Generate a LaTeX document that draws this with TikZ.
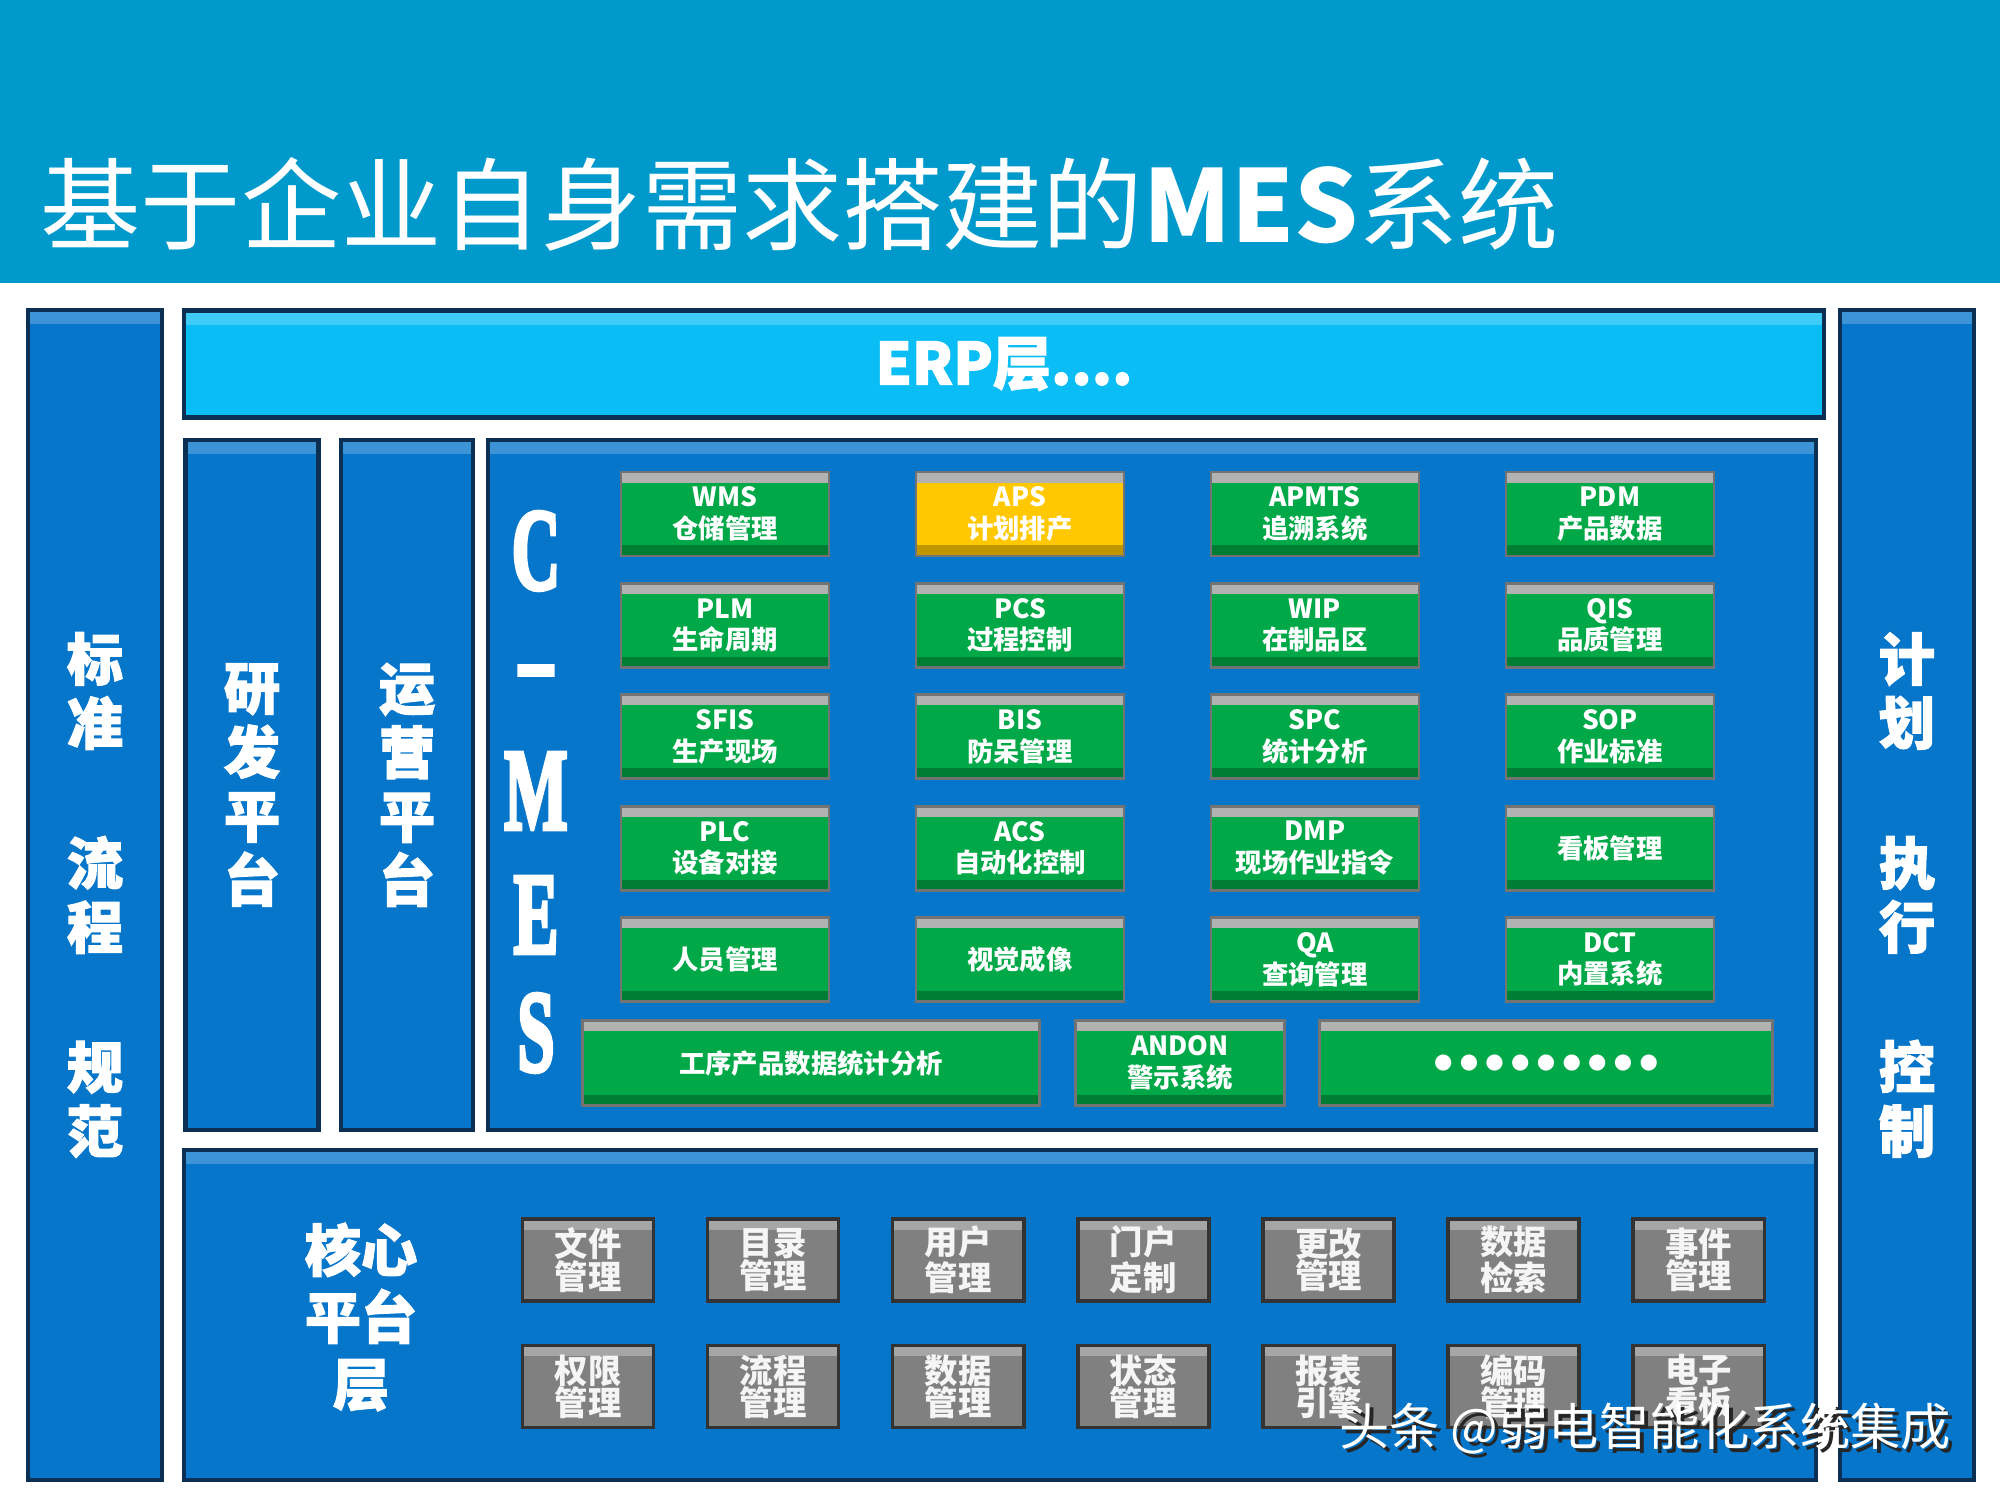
\documentclass[tikz,border=0pt]{standalone}
\usepackage{fontspec}
\usetikzlibrary{positioning}
\newfontfamily\cjk{Noto Sans CJK SC}
\newfontfamily\cjkheavy[FakeBold=2]{Noto Sans CJK SC}
\newfontfamily\serifbold[FakeBold=4]{Liberation Serif}
\newfontfamily\dotfont{DejaVu Sans}
\definecolor{titleblue}{RGB}{0,153,204}
\definecolor{erpcyan}{RGB}{10,190,245}
\definecolor{panelblue}{RGB}{6,118,203}
\definecolor{paneledge}{RGB}{12,48,84}
\definecolor{modgreen}{RGB}{0,168,72}
\definecolor{apsyellow}{RGB}{255,200,0}
\definecolor{coregray}{RGB}{128,128,128}
\newcommand\bdot{\makebox[7.3pt]{\dotfont\fontsize{6}{6}\selectfont ●}}
\newcommand\dotrow{\bdot\bdot\bdot\bdot\bdot\bdot\bdot\bdot\bdot}
\newcommand\mesglyph[1]{\scalebox{0.58}[1]{#1}}

\begin{document}
\begin{tikzpicture}[
    x=0.01cm, y=-0.01cm,
    panel/.style={rectangle, fill=#1, draw=paneledge, line width=1.2pt,
                  inner sep=0pt, text=white, align=center,
                  font=\cjkheavy\bfseries\fontsize{16}{18.2}\selectfont,
                  path picture={\fill[white, opacity=0.22]
                    (path picture bounding box.north west) rectangle
                    ([yshift=-4pt]path picture bounding box.north east);}},
    panel/.default=panelblue,
    modbox/.style={rectangle, fill=#1, draw=black!55, line width=0.8pt,
                   minimum width=2.08cm, minimum height=0.84cm, inner sep=0pt,
                   text=white, align=center,
                   font=\cjk\bfseries\fontsize{7.5}{9}\selectfont,
                   path picture={\fill[black!30]
                     (path picture bounding box.north west) rectangle
                     ([yshift=-3pt]path picture bounding box.north east);
                     \fill[black, opacity=0.25]
                     (path picture bounding box.south west) rectangle
                     ([yshift=3pt]path picture bounding box.south east);}},
    modbox/.default=modgreen,
    corebox/.style={rectangle, fill=coregray, draw=black!80, line width=1pt,
                    minimum width=1.31cm, minimum height=0.82cm, inner sep=0pt,
                    text=white!92!gray, align=center,
                    font=\cjk\bfseries\fontsize{9.5}{9.2}\selectfont,
                    path picture={\fill[white, opacity=0.3]
                      (path picture bounding box.north west) rectangle
                      ([yshift=-3pt]path picture bounding box.north east);}},
    mesletter/.style={text=white, font=\serifbold\bfseries\fontsize{33}{33}\selectfont},
    wmark/.style={font=\cjk\fontsize{14.3}{14.3}\selectfont}
]
\useasboundingbox (0,0) rectangle (2000,1500);
\fill[white] (0,0) rectangle (2000,1500);

% Title band
\fill[titleblue] (0,0) rectangle (2000,283);
\node[anchor=west, inner sep=0pt, text=white, font=\cjk\fontsize{28.5}{30}\selectfont] (title)
  at (40,204) {基于企业自身需求搭建的{\bfseries MES}系统};

% Outer columns and ERP
\node[panel, minimum width=1.34cm, minimum height=11.69cm] (stdcol) at (95,895)
  {标\\准\\[0.76cm]流\\程\\[0.76cm]规\\范};
\node[panel, minimum width=1.34cm, minimum height=11.69cm] (ctlcol) at (1907,895)
  {计\\划\\[0.76cm]执\\行\\[0.76cm]控\\制};
\node[panel=erpcyan, minimum width=16.39cm, minimum height=1.07cm,
      font=\cjkheavy\bfseries\fontsize{16.5}{17}\selectfont] (erp) at (1004,364) {ERP层....};

% Platforms
\node[panel, minimum width=1.33cm, minimum height=6.9cm] (rdcol) at (252,785)
  {研\\发\\平\\台};
\node[panel, minimum width=1.32cm, minimum height=6.9cm] (opcol) at (407,785)
  {运\\营\\平\\台};
\node[panel, minimum width=13.27cm, minimum height=6.9cm] (mes) at (1152,785) {};
\node[panel, minimum width=16.31cm, minimum height=3.3cm] (core) at (1000,1315) {};

% C-MES
\node[mesletter] (lc) at (536,551) {\mesglyph{C}};
\node[mesletter] (ldash) at (536,682) {\mesglyph{–}};
\node[mesletter] (lm) at (536,791) {\mesglyph{M}};
\node[mesletter] (le) at (536,915) {\mesglyph{E}};
\node[mesletter] (ls) at (536,1033) {\mesglyph{S}};

% MES modules
\node[modbox] (m11) at (725,514) {WMS\\仓储管理};
\node[modbox=apsyellow, right=0.84cm of m11] (m12) {APS\\计划排产};
\node[modbox, right=0.84cm of m12] (m13) {APMTS\\追溯系统};
\node[modbox, right=0.84cm of m13] (m14) {PDM\\产品数据};

\node[modbox, below=0.245cm of m11] (m21) {PLM\\生命周期};
\node[modbox, right=0.84cm of m21] (m22) {PCS\\过程控制};
\node[modbox, right=0.84cm of m22] (m23) {WIP\\在制品区};
\node[modbox, right=0.84cm of m23] (m24) {QIS\\品质管理};

\node[modbox, below=0.245cm of m21] (m31) {SFIS\\生产现场};
\node[modbox, right=0.84cm of m31] (m32) {BIS\\防呆管理};
\node[modbox, right=0.84cm of m32] (m33) {SPC\\统计分析};
\node[modbox, right=0.84cm of m33] (m34) {SOP\\作业标准};

\node[modbox, below=0.245cm of m31] (m41) {PLC\\设备对接};
\node[modbox, right=0.84cm of m41] (m42) {ACS\\自动化控制};
\node[modbox, right=0.84cm of m42] (m43) {DMP\\现场作业指令};
\node[modbox, right=0.84cm of m43] (m44) {看板管理};

\node[modbox, below=0.245cm of m41] (m51) {人员管理};
\node[modbox, right=0.84cm of m51] (m52) {视觉成像};
\node[modbox, right=0.84cm of m52] (m53) {QA\\查询管理};
\node[modbox, right=0.84cm of m53] (m54) {DCT\\内置系统};

\node[modbox, minimum width=4.57cm, minimum height=0.85cm] (stat) at (811,1063) {工序产品数据统计分析};
\node[modbox, minimum width=2.09cm, minimum height=0.85cm] (andon) at (1180,1063) {ANDON\\警示系统};
\node[modbox, minimum width=4.53cm, minimum height=0.85cm] (more) at (1546,1063) {\dotrow};

% Core platform layer
\node[text=white, align=center, font=\cjkheavy\bfseries\fontsize{16}{19}\selectfont] (corelbl)
  at (361,1317) {核心\\平台\\层};

\node[corebox] (g11) at (588,1260) {文件\\管理};
\node[corebox, right=0.505cm of g11] (g12) {目录\\管理};
\node[corebox, right=0.505cm of g12] (g13) {用户\\管理};
\node[corebox, right=0.505cm of g13] (g14) {门户\\定制};
\node[corebox, right=0.505cm of g14] (g15) {更改\\管理};
\node[corebox, right=0.505cm of g15] (g16) {数据\\检索};
\node[corebox, right=0.505cm of g16] (g17) {事件\\管理};

\node[corebox, below=0.41cm of g11] (g21) {权限\\管理};
\node[corebox, right=0.505cm of g21] (g22) {流程\\管理};
\node[corebox, right=0.505cm of g22] (g23) {数据\\管理};
\node[corebox, right=0.505cm of g23] (g24) {状态\\管理};
\node[corebox, right=0.505cm of g24] (g25) {报表\\引擎};
\node[corebox, right=0.505cm of g25] (g26) {编码\\管理};
\node[corebox, right=0.505cm of g26] (g27) {电子\\看板};

% Watermark
\node[wmark, text=black!85] (wmshadow) at (1649,1433) {头条 @弱电智能化系统集成};
\node[wmark, text=white] (wm) at (1645,1429) {头条 @弱电智能化系统集成};

\end{tikzpicture}
\end{document}
